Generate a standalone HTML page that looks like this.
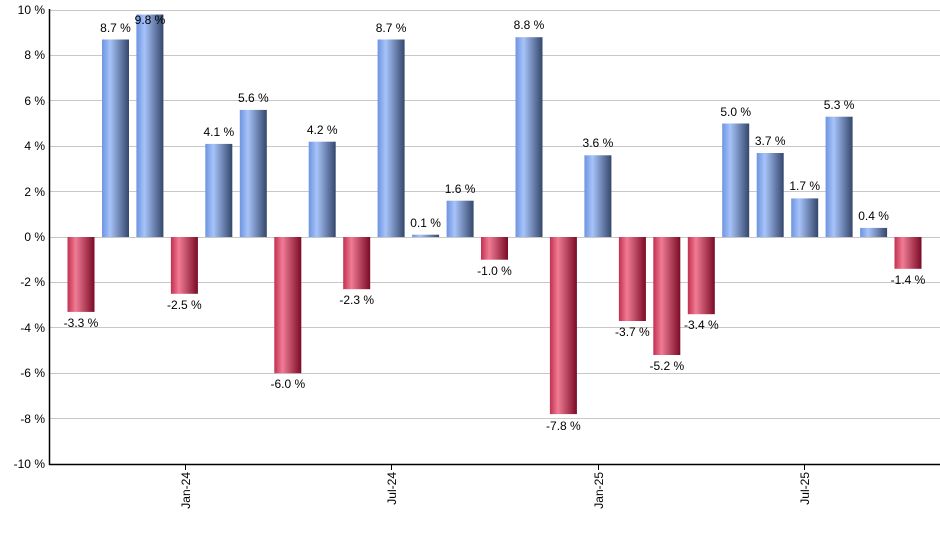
<!DOCTYPE html><html><head><style>body{margin:0;background:#fff}svg{font-family:"Liberation Sans",Arial,sans-serif;font-size:12px}</style></head><body>
<svg width="940" height="550" xmlns="http://www.w3.org/2000/svg">
<defs>
<linearGradient id="b" x1="0" x2="1" y1="0" y2="0"><stop offset="0" stop-color="#6d94e0"/><stop offset="0.3" stop-color="#a7c3f9"/><stop offset="1" stop-color="#34476c"/></linearGradient>
<linearGradient id="r" x1="0" x2="1" y1="0" y2="0"><stop offset="0" stop-color="#c23050"/><stop offset="0.3" stop-color="#f07c94"/><stop offset="1" stop-color="#7a0a26"/></linearGradient>
</defs>
<g stroke="#c8c8c8" stroke-width="1">
<line x1="49" x2="940" y1="10.5" y2="10.5"/><line x1="49" x2="940" y1="55.5" y2="55.5"/><line x1="49" x2="940" y1="100.5" y2="100.5"/><line x1="49" x2="940" y1="146.5" y2="146.5"/><line x1="49" x2="940" y1="191.5" y2="191.5"/><line x1="49" x2="940" y1="237.5" y2="237.5"/><line x1="49" x2="940" y1="282.5" y2="282.5"/><line x1="49" x2="940" y1="327.5" y2="327.5"/><line x1="49" x2="940" y1="373.5" y2="373.5"/><line x1="49" x2="940" y1="418.5" y2="418.5"/>
</g>
<g text-anchor="end" fill="#000">
<text x="45" y="14">10 %</text><text x="45" y="59">8 %</text><text x="45" y="105">6 %</text><text x="45" y="150">4 %</text><text x="45" y="196">2 %</text><text x="45" y="241">0 %</text><text x="45" y="286">-2 %</text><text x="45" y="332">-4 %</text><text x="45" y="377">-6 %</text><text x="45" y="423">-8 %</text><text x="45" y="468">-10 %</text>
</g>
<g>
<rect x="67.5" y="237" width="27" height="74.9" fill="url(#r)"/>
<rect x="102" y="39.5" width="27" height="197.5" fill="url(#b)"/>
<rect x="136.4" y="14.5" width="27" height="222.5" fill="url(#b)"/>
<rect x="170.9" y="237" width="27" height="56.8" fill="url(#r)"/>
<rect x="205.3" y="143.9" width="27" height="93.1" fill="url(#b)"/>
<rect x="239.8" y="109.9" width="27" height="127.1" fill="url(#b)"/>
<rect x="274.3" y="237" width="27" height="136.2" fill="url(#r)"/>
<rect x="308.7" y="141.7" width="27" height="95.3" fill="url(#b)"/>
<rect x="343.2" y="237" width="27" height="52.2" fill="url(#r)"/>
<rect x="377.6" y="39.5" width="27" height="197.5" fill="url(#b)"/>
<rect x="412.1" y="234.7" width="27" height="2.3" fill="url(#b)"/>
<rect x="446.6" y="200.7" width="27" height="36.3" fill="url(#b)"/>
<rect x="481" y="237" width="27" height="22.7" fill="url(#r)"/>
<rect x="515.5" y="37.2" width="27" height="199.8" fill="url(#b)"/>
<rect x="549.9" y="237" width="27" height="177.1" fill="url(#r)"/>
<rect x="584.4" y="155.3" width="27" height="81.7" fill="url(#b)"/>
<rect x="618.9" y="237" width="27" height="84" fill="url(#r)"/>
<rect x="653.3" y="237" width="27" height="118" fill="url(#r)"/>
<rect x="687.8" y="237" width="27" height="77.2" fill="url(#r)"/>
<rect x="722.2" y="123.5" width="27" height="113.5" fill="url(#b)"/>
<rect x="756.7" y="153" width="27" height="84" fill="url(#b)"/>
<rect x="791.2" y="198.4" width="27" height="38.6" fill="url(#b)"/>
<rect x="825.6" y="116.7" width="27" height="120.3" fill="url(#b)"/>
<rect x="860.1" y="227.9" width="27" height="9.1" fill="url(#b)"/>
<rect x="894.5" y="237" width="27" height="31.8" fill="url(#r)"/>
</g>
<g text-anchor="middle" fill="#000">
<text x="81" y="327">-3.3 %</text>
<text x="115.5" y="32">8.7 %</text>
<text x="150" y="24">9.8 %</text>
<text x="184.4" y="309">-2.5 %</text>
<text x="218.8" y="136">4.1 %</text>
<text x="253.3" y="102">5.6 %</text>
<text x="287.8" y="388">-6.0 %</text>
<text x="322.2" y="134">4.2 %</text>
<text x="356.7" y="304">-2.3 %</text>
<text x="391.1" y="32">8.7 %</text>
<text x="425.6" y="227">0.1 %</text>
<text x="460.1" y="193">1.6 %</text>
<text x="494.5" y="275">-1.0 %</text>
<text x="529" y="29">8.8 %</text>
<text x="563.4" y="430">-7.8 %</text>
<text x="597.9" y="147">3.6 %</text>
<text x="632.4" y="336">-3.7 %</text>
<text x="666.8" y="370">-5.2 %</text>
<text x="701.3" y="329">-3.4 %</text>
<text x="735.7" y="116">5.0 %</text>
<text x="770.2" y="145">3.7 %</text>
<text x="804.7" y="190">1.7 %</text>
<text x="839.1" y="109">5.3 %</text>
<text x="873.6" y="220">0.4 %</text>
<text x="908" y="284">-1.4 %</text>
</g>
<g stroke="#000" stroke-width="1.5">
<line x1="49.5" x2="49.5" y1="9" y2="465"/><line x1="49" x2="940" y1="464.5" y2="464.5"/>
</g>
<g stroke="#000"><line x1="185.5" x2="185.5" y1="464" y2="470"/><line x1="391.5" x2="391.5" y1="464" y2="470"/><line x1="598.5" x2="598.5" y1="464" y2="470"/><line x1="804.5" x2="804.5" y1="464" y2="470"/></g>
<g text-anchor="end" fill="#000">
<text transform="translate(190,472) rotate(-90)">Jan-24</text>
<text transform="translate(396,472) rotate(-90)">Jul-24</text>
<text transform="translate(603,472) rotate(-90)">Jan-25</text>
<text transform="translate(809,472) rotate(-90)">Jul-25</text>
</g>
</svg></body></html>
